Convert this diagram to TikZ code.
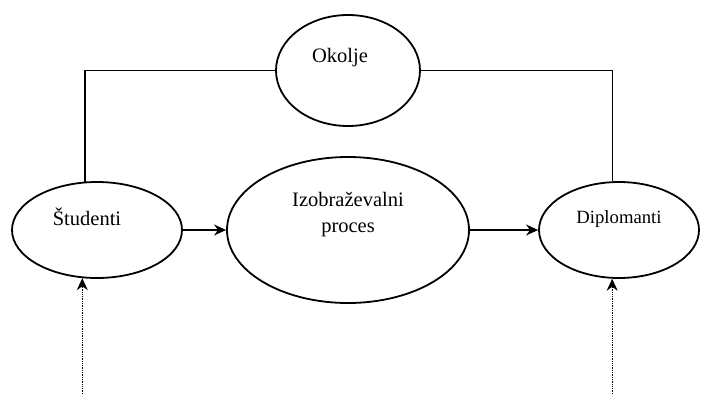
\documentclass[tikz,border=0pt]{standalone}
\usepackage{fontspec}
\setmainfont{Liberation Serif}
\usetikzlibrary{shapes.geometric,arrows.meta}

\begin{document}
\begin{tikzpicture}[x=1pt,y=-1pt,
    blob/.style={draw,ellipse,line width=1.8pt,inner sep=0pt,
      font=\fontsize{20.5}{26}\selectfont,text height=14pt},
    link/.style={line width=1.3pt},
    flow/.style={line width=1.4pt,-{Stealth[length=12pt,width=11pt]}},
    feed/.style={line width=1.3pt,densely dotted,-{Stealth[length=12pt,width=11pt]}}]
    \useasboundingbox (0,0) rectangle (701,394);
    \node[blob,minimum width=144pt,minimum height=111pt,text depth=31pt] (okolje) at (348,70.5) {Okolje\hspace*{16pt}};
    \node[blob,minimum width=170pt,minimum height=96pt,text depth=24pt] (studenti) at (97,230) {Študenti\hspace*{20pt}};
    \node[blob,minimum width=242pt,minimum height=146pt,align=center,text depth=9pt] (proces) at (348,230) {Izobraževalni\\proces};
    \node[blob,minimum width=160pt,minimum height=96pt,text depth=28pt,font=\fontsize{18.7}{24}\selectfont] (diplomanti) at (619,230) {Diplomanti};
    \coordinate (base) at (0,394);
    \draw[link] (okolje.west) -| (studenti.104);
    \draw[link] (okolje.east) -| (diplomanti.98);
    \draw[flow] (studenti) -- (proces);
    \draw[flow] (proces) -- (diplomanti);
    \draw[feed] (studenti.253.5 |- base) -- (studenti.253.5);
    \draw[feed] (diplomanti.262 |- base) -- (diplomanti.262);
  \end{tikzpicture}
\end{document}
